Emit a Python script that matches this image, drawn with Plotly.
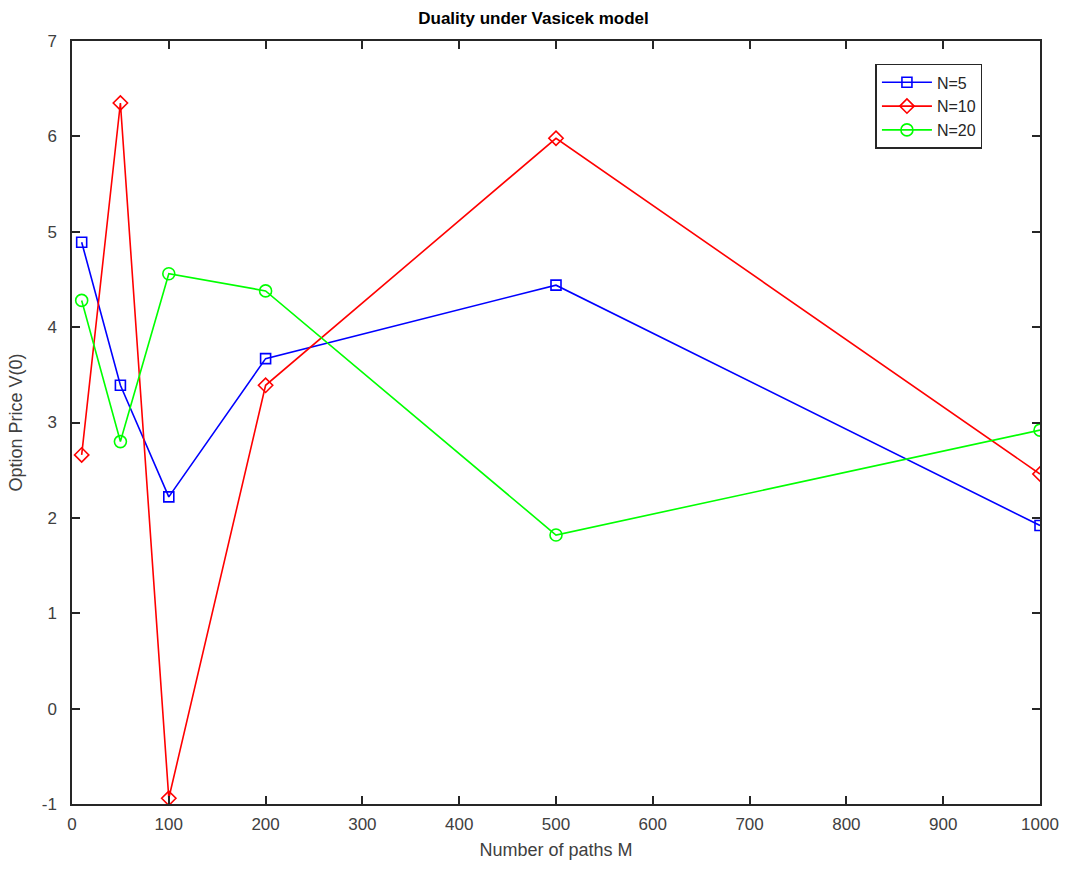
import plotly.graph_objects as go

paths_M = [10, 50, 100, 200, 500, 1000]
price_N5 = [4.89, 3.39, 2.22, 3.67, 4.44, 1.92]
price_N10 = [2.66, 6.35, -0.94, 3.39, 5.98, 2.46]
price_N20 = [4.28, 2.80, 4.56, 4.38, 1.82, 2.92]
series_names = ["N=5", "N=10", "N=20"]
x_ticks = [0, 100, 200, 300, 400, 500, 600, 700, 800, 900, 1000]
y_ticks = [-1, 0, 1, 2, 3, 4, 5, 6, 7]

colors = ["#0000ff", "#ff0000", "#00ff00"]
symbols = ["square-open", "diamond-open", "circle-open"]
sizes = [10, 11, 12]

FONT = "Liberation Sans, Arial, sans-serif"

fig = go.Figure()
for name, ys, c, s, sz in zip(series_names, [price_N5, price_N10, price_N20], colors, symbols, sizes):
    fig.add_trace(go.Scatter(
        x=paths_M, y=ys, mode="lines+markers", name=name,
        line=dict(color=c, width=1.6),
        marker=dict(symbol=s, size=sz, color=c, line=dict(color=c, width=1.6)),
    ))

axis_common = dict(
    showgrid=False, zeroline=False, showline=True, linecolor="#262626", linewidth=1.5,
    mirror="ticks", ticks="inside", ticklen=8, tickcolor="#262626", tickwidth=1.5,
    tickfont=dict(family=FONT, size=17, color="#404040"), automargin=False,
)

fig.update_layout(
    width=1067, height=869,
    paper_bgcolor="white", plot_bgcolor="white",
    margin=dict(l=72, r=27, t=41, b=65),
    title=dict(text="<b>Duality under Vasicek model</b>", x=0.5, xanchor="center", y=0.979, yanchor="middle",
               font=dict(family=FONT, size=17, color="#000000")),
    xaxis=dict(range=[0, 1000], tickvals=x_ticks, ticktext=[str(v) for v in x_ticks],
               ticklabelstandoff=4,
               title=dict(text="Number of paths M", standoff=10,
                          font=dict(family=FONT, size=18, color="#404040")),
               **axis_common),
    yaxis=dict(range=[-1, 7], tickvals=y_ticks, ticktext=[str(v) for v in y_ticks],
               ticklabelstandoff=10,
               title=dict(text="Option Price V(0)", standoff=14,
                          font=dict(family=FONT, size=18, color="#404040")),
               **axis_common),
    legend=dict(x=0.83, y=0.970, xanchor="left", yanchor="top",
                bgcolor="white", bordercolor="#262626", borderwidth=1.5,
                font=dict(family=FONT, size=16, color="#262626"),
                tracegroupgap=0, itemwidth=50),
    showlegend=True,
)

fig.write_html("out.html")
